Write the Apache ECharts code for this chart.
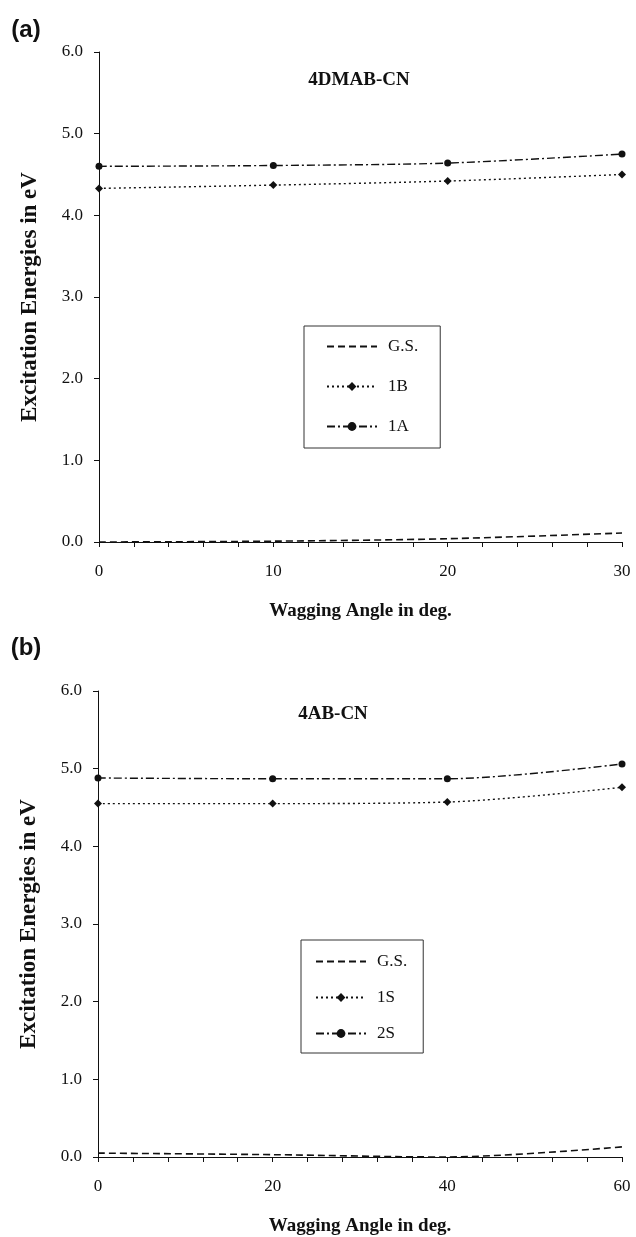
<!DOCTYPE html>
<html>
<head>
<meta charset="utf-8">
<script src="https://cdn.jsdelivr.net/npm/echarts@6/dist/echarts.min.js"></script>
<style>
  html, body { margin: 0; padding: 0; background: #fff; }
  #chart { width: 636px; height: 1237px; }
</style>
</head>
<body>
<div id="chart"></div>
<script>
  // panel (a) 4DMAB-CN
  var angleA = [0, 10, 20, 30];
  var gsA = [0.00, 0.01, 0.04, 0.11];
  var oneB = [4.33, 4.37, 4.42, 4.50];
  var oneA = [4.60, 4.61, 4.64, 4.75];
  // panel (b) 4AB-CN
  var angleB = [0, 20, 40, 60];
  var gsB = [0.05, 0.03, 0.00, 0.13];
  var oneS = [4.55, 4.55, 4.57, 4.76];
  var twoS = [4.88, 4.87, 4.87, 5.06];

  var serif = '"Liberation Serif", "Times New Roman", serif';
  var ink = '#111';

  function pairs(xs, ys) {
    return xs.map(function (x, i) { return [x, ys[i]]; });
  }

  function xAxisFor(grid, max, step) {
    return {
      type: 'value', gridIndex: grid, min: 0, max: max, interval: step,
      name: 'Wagging Angle in deg.', nameLocation: 'middle', nameGap: 60,
      nameTextStyle: { fontFamily: serif, fontWeight: 'bold', fontSize: 19, color: ink },
      axisLine: { lineStyle: { color: ink, width: 1 } },
      axisTick: { length: 5, lineStyle: { color: ink } },
      minorTick: { show: true, splitNumber: 5, length: 5, lineStyle: { color: ink } },
      axisLabel: { fontFamily: serif, fontSize: 17, color: ink, margin: 21 },
      splitLine: { show: false }
    };
  }

  function yAxisFor(grid) {
    return {
      type: 'value', gridIndex: grid, min: 0, max: 6, interval: 1,
      name: 'Excitation Energies in eV', nameLocation: 'middle', nameGap: 57,
      nameTextStyle: { fontFamily: serif, fontWeight: 'bold', fontSize: 23, color: ink },
      axisLine: { show: true, lineStyle: { color: ink, width: 1 } },
      axisTick: { show: true, length: 5, lineStyle: { color: ink } },
      axisLabel: { fontFamily: serif, fontSize: 17, color: ink, margin: 16,
        formatter: function (v) { return v.toFixed(1); } },
      splitLine: { show: false }
    };
  }

  function gsSeries(grid, data) {
    return {
      name: 'G.S.', type: 'line', xAxisIndex: grid, yAxisIndex: grid,
      data: data, smooth: 0.3, symbol: 'none',
      itemStyle: { color: ink },
      lineStyle: { color: ink, width: 1.6, type: [7, 4] }
    };
  }
  function dotSeries(name, grid, data) {
    return {
      name: name, type: 'line', xAxisIndex: grid, yAxisIndex: grid,
      data: data, smooth: 0.3, symbol: 'diamond', symbolSize: 8,
      itemStyle: { color: ink },
      lineStyle: { color: ink, width: 1.4, type: [2, 3] }
    };
  }
  function dashDotSeries(name, grid, data) {
    return {
      name: name, type: 'line', xAxisIndex: grid, yAxisIndex: grid,
      data: data, smooth: 0.3, symbol: 'circle', symbolSize: 7,
      itemStyle: { color: ink },
      lineStyle: { color: ink, width: 1.4, type: [8, 3, 2, 3] }
    };
  }

  function legendFor(names, left, top, pad, gap) {
    var items = names.map(function (n) {
      // the ground state entry is a bare dashed line, no marker
      return n === 'G.S.' ? { name: n, itemStyle: { opacity: 0 } } : { name: n };
    });
    return {
      data: items, orient: 'vertical', left: left, top: top,
      padding: pad, itemGap: gap, itemWidth: 50, itemHeight: 11,
      borderColor: '#333', borderWidth: 1, selectedMode: false,
      textStyle: { fontFamily: serif, fontSize: 17, color: ink, padding: [0, 0, 0, 6] }
    };
  }

  var chart = echarts.init(document.getElementById('chart'));
  chart.setOption({
    backgroundColor: '#fff',
    animation: false,
    grid: [
      { left: 99, top: 52, width: 523, height: 490 },
      { left: 98, top: 691, width: 524, height: 472 }
    ],
    xAxis: [xAxisFor(0, 30, 10), xAxisFor(1, 60, 20)],
    yAxis: [yAxisFor(0), yAxisFor(1)],
    legend: [
      legendFor(['G.S.', '1B', '1A'], 304, 326, [12, 22, 13, 22], 23),
      legendFor(['G.S.', '1S', '2S'], 301, 940, [13, 16, 11, 14], 19)
    ],
    graphic: [
      { type: 'text', x: 26, y: 30, style: { text: '(a)', fontFamily: 'Liberation Sans, Arial, sans-serif',
        fontWeight: 'bold', fontSize: 24, fill: ink, align: 'center', verticalAlign: 'middle' } },
      { type: 'text', x: 359, y: 80, style: { text: '4DMAB-CN', fontFamily: serif,
        fontWeight: 'bold', fontSize: 19, fill: ink, align: 'center', verticalAlign: 'middle' } },
      { type: 'text', x: 26, y: 648, style: { text: '(b)', fontFamily: 'Liberation Sans, Arial, sans-serif',
        fontWeight: 'bold', fontSize: 24, fill: ink, align: 'center', verticalAlign: 'middle' } },
      { type: 'text', x: 333, y: 714, style: { text: '4AB-CN', fontFamily: serif,
        fontWeight: 'bold', fontSize: 19, fill: ink, align: 'center', verticalAlign: 'middle' } }
    ],
    series: [
      gsSeries(0, pairs(angleA, gsA)),
      dotSeries('1B', 0, pairs(angleA, oneB)),
      dashDotSeries('1A', 0, pairs(angleA, oneA)),
      gsSeries(1, pairs(angleB, gsB)),
      dotSeries('1S', 1, pairs(angleB, oneS)),
      dashDotSeries('2S', 1, pairs(angleB, twoS))
    ]
  });
</script>
</body>
</html>
